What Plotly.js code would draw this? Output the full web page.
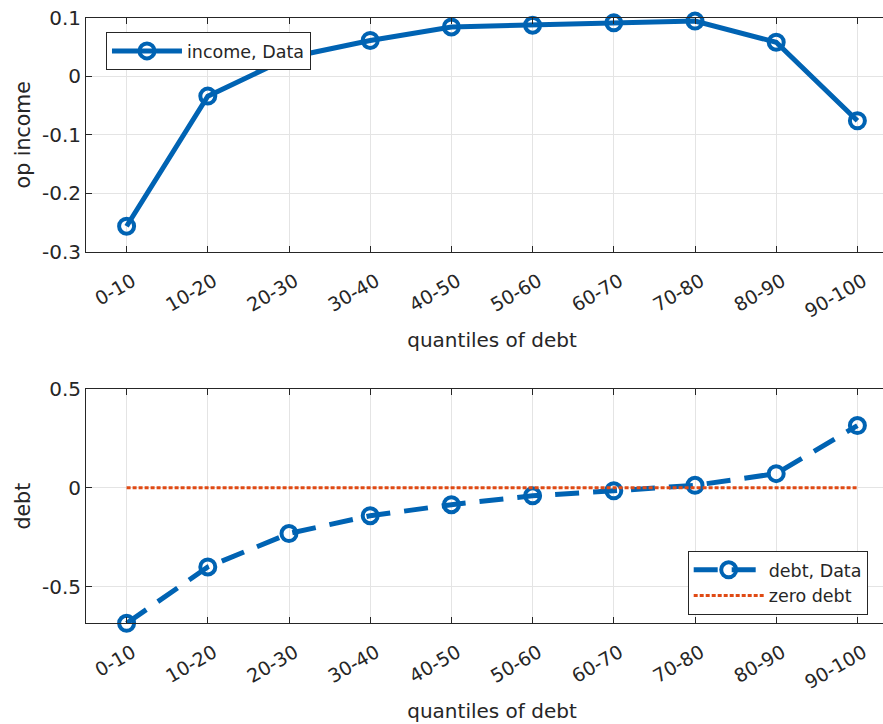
<!DOCTYPE html>
<html>
<head>
<meta charset="utf-8">
<script src="https://cdn.plot.ly/plotly-3.0.1.min.js"></script>
<style>
  html, body { margin: 0; padding: 0; overflow: hidden; background: #fff; }
  #chart { width: 900px; height: 724px; }
</style>
</head>
<body>
<div id="chart"></div>
<script>
// Quantile bins of debt
const quantiles = ["0-10", "10-20", "20-30", "30-40", "40-50", "50-60", "60-70", "70-80", "80-90", "90-100"];

// Operating income by debt quantile
const incomeData = [-0.256, -0.034, 0.032, 0.061, 0.084, 0.087, 0.091, 0.094, 0.058, -0.076];

// Debt by debt quantile, and the zero reference
const debtData = [-0.685, -0.40, -0.231, -0.141, -0.085, -0.040, -0.015, 0.013, 0.072, 0.315];
const zeroDebt = [0, 0, 0, 0, 0, 0, 0, 0, 0, 0];

// Tick labels
const incomeTicks = [0.1, 0, -0.1, -0.2, -0.3];
const incomeTickText = ["0.1", "0", "-0.1", "-0.2", "-0.3"];
const debtTicks = [0.5, 0, -0.5];
const debtTickText = ["0.5", "0", "-0.5"];

const blue = "#0063b3";
const orange = "#e04a14";
const ink = "#262626";
const fontFam = "DejaVu Sans, Liberation Sans, Arial, sans-serif";

const traces = [
  {
    x: quantiles, y: incomeData, xaxis: "x", yaxis: "y",
    name: "income, Data", mode: "lines+markers",
    line: { color: blue, width: 5 },
    marker: { symbol: "circle-open", size: 15, line: { color: blue, width: 4 } },
    cliponaxis: false, legend: "legend"
  },
  {
    x: quantiles, y: debtData, xaxis: "x2", yaxis: "y2",
    name: "debt, Data", mode: "lines+markers",
    line: { color: blue, width: 5, dash: "24px,14px" },
    marker: { symbol: "circle-open", size: 15, line: { color: blue, width: 4 } },
    cliponaxis: false, legend: "legend2"
  },
  {
    x: quantiles, y: zeroDebt, xaxis: "x2", yaxis: "y2",
    name: "zero debt", mode: "lines",
    line: { color: orange, width: 3, dash: "4px,2px" },
    legend: "legend2"
  }
];

function xAxis(domainAnchor) {
  return {
    anchor: domainAnchor,
    type: "category",
    range: [-0.5, 9.5],
    tickangle: -30,
    ticks: "inside", ticklen: 6, tickcolor: ink,
    showline: true, linecolor: ink, linewidth: 1, mirror: "ticks",
    showgrid: true, gridcolor: "#e4e4e4", gridwidth: 1,
    zeroline: false,
    ticklabelstandoff: 10,
    ticklabelshift: 6,
    tickfont: { family: fontFam, size: 19, color: ink },
    title: { text: "quantiles of debt", font: { family: fontFam, size: 20, color: ink }, standoff: 12 },
    automargin: false
  };
}

function yAxis(domain, anchor, range, vals, text, label) {
  return {
    domain: domain, anchor: anchor, range: range,
    tickvals: vals, ticktext: text,
    ticks: "inside", ticklen: 6, tickcolor: ink,
    showline: true, linecolor: ink, linewidth: 1, mirror: "ticks",
    showgrid: true, gridcolor: "#e4e4e4", gridwidth: 1,
    zeroline: false,
    tickfont: { family: fontFam, size: 20, color: ink },
    title: { text: label, font: { family: fontFam, size: 20.5, color: ink }, standoff: 5 },
    automargin: false
  };
}

const layout = {
  width: 900, height: 724,
  margin: { l: 86, r: 2, t: 0, b: 0 },
  paper_bgcolor: "#fff", plot_bgcolor: "#fff",
  font: { family: fontFam, color: ink },
  xaxis: xAxis("y"),
  yaxis: yAxis([0.6519, 0.9757], "x", [-0.3, 0.1], incomeTicks, incomeTickText, "op income"),
  xaxis2: xAxis("y2"),
  yaxis2: yAxis([0.1391, 0.4627], "x2", [-0.685, 0.5], debtTicks, debtTickText, "debt"),
  legend: {
    x: 0.0246, y: 0.9558, xanchor: "left", yanchor: "top",
    bgcolor: "#fff", bordercolor: ink, borderwidth: 1,
    font: { family: fontFam, size: 17.5, color: ink },
    itemwidth: 70
  },
  legend2: {
    x: 0.741, y: 0.239, xanchor: "left", yanchor: "top",
    bgcolor: "#fff", bordercolor: ink, borderwidth: 1,
    font: { family: fontFam, size: 17.5, color: ink },
    itemwidth: 70, tracegroupgap: 0
  },
  showlegend: true
};

Plotly.newPlot("chart", traces, layout, { displayModeBar: false, staticPlot: true });
</script>
</body>
</html>
